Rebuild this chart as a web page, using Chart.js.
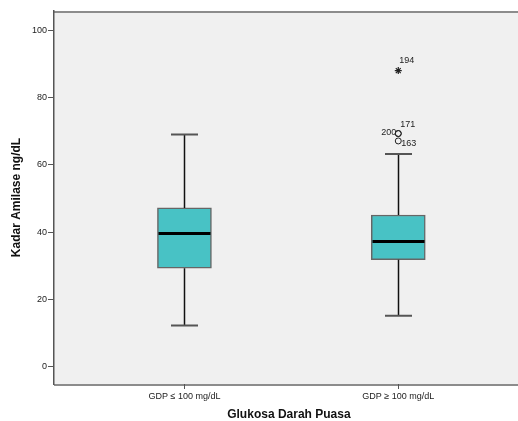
<!DOCTYPE html>
<html>
<head>
<meta charset="utf-8">
<script src="https://cdn.jsdelivr.net/npm/chart.js@4.4.0/dist/chart.umd.min.js"></script>
<style>
  html, body { margin: 0; padding: 0; background: #fff; overflow: hidden; }
</style>
</head>
<body>
<canvas id="boxChart" width="529" height="421"></canvas>
<script>
// data
var groups = ['GDP \u2264 100 mg/dL', 'GDP \u2265 100 mg/dL'];
var groupPos = [1, 2];
var q1 = [29.3, 31.8];
var q3 = [47.2, 45.1];
var medians = [39.6, 37.2];
var whiskerLow = [12.3, 15.2];
var whiskerHigh = [69, 63.2];
var yTicks = [0, 20, 40, 60, 80, 100];

// outliers (second group only)
var outlierVals = [69.3, 69.3, 67.1];
var outlierIds = ['200', '171', '163'];
var extremeVals = [88];
var extremeIds = ['194'];

var boxData = groupPos.map(function (p, i) { return { x: p, y: [q1[i], q3[i]] }; });
var outlierData = outlierVals.map(function (v) { return { x: groupPos[1], y: v }; });
var extremeData = extremeVals.map(function (v) { return { x: groupPos[1], y: v }; });

// plot background + frame
var frame = {
  id: 'frame',
  beforeDraw: function (chart) {
    var a = chart.chartArea, ctx = chart.ctx;
    ctx.save();
    ctx.fillStyle = '#f0f0f0';
    ctx.fillRect(a.left, a.top, chart.width - a.left, a.bottom - a.top);
    ctx.strokeStyle = '#8c8c8c';
    ctx.lineWidth = 2;
    ctx.beginPath();
    ctx.moveTo(a.left, a.top + 1);
    ctx.lineTo(chart.width, a.top + 1);
    ctx.moveTo(a.left, a.bottom + 1);
    ctx.lineTo(chart.width, a.bottom + 1);
    ctx.stroke();
    ctx.restore();
  }
};

// whiskers, caps and medians
var whiskers = {
  id: 'whiskers',
  afterDatasetsDraw: function (chart) {
    var ctx = chart.ctx, xs = chart.scales.x, ys = chart.scales.y;
    ctx.save();
    groupPos.forEach(function (p, i) {
      var cx = Math.round(xs.getPixelForValue(p)) + 0.5;
      var yLo = ys.getPixelForValue(whiskerLow[i]);
      var yHi = ys.getPixelForValue(whiskerHigh[i]);
      var yQ1 = ys.getPixelForValue(q1[i]);
      var yQ3 = ys.getPixelForValue(q3[i]);
      var yMed = ys.getPixelForValue(medians[i]);
      ctx.strokeStyle = '#111';
      ctx.lineWidth = 1.5;
      ctx.beginPath();
      ctx.moveTo(cx, yQ3); ctx.lineTo(cx, yHi);
      ctx.moveTo(cx, yQ1); ctx.lineTo(cx, yLo);
      ctx.stroke();
      ctx.strokeStyle = '#555';
      ctx.lineWidth = 2;
      ctx.beginPath();
      ctx.moveTo(cx - 13.5, yHi); ctx.lineTo(cx + 13.5, yHi);
      ctx.moveTo(cx - 13.5, yLo); ctx.lineTo(cx + 13.5, yLo);
      ctx.stroke();
      ctx.strokeStyle = '#000';
      ctx.lineWidth = 3;
      ctx.beginPath();
      ctx.moveTo(cx - 26, yMed); ctx.lineTo(cx + 26, yMed);
      ctx.stroke();
    });
    ctx.restore();
  }
};

// case numbers beside outliers
var caseLabels = {
  id: 'caseLabels',
  afterDatasetsDraw: function (chart) {
    var ctx = chart.ctx;
    ctx.save();
    ctx.font = '9px "Liberation Sans", Arial, sans-serif';
    ctx.fillStyle = '#222';
    ctx.textBaseline = 'middle';
    var oMeta = chart.getDatasetMeta(1).data;
    var eMeta = chart.getDatasetMeta(2).data;
    // 200 left, 171 above right, 163 right
    ctx.textAlign = 'right';
    ctx.fillText(outlierIds[0], oMeta[0].x - 2, oMeta[0].y - 1);
    ctx.textAlign = 'left';
    ctx.fillText(outlierIds[1], oMeta[1].x + 2, oMeta[1].y - 9);
    ctx.fillText(outlierIds[2], oMeta[2].x + 3, oMeta[2].y + 3);
    ctx.fillText(extremeIds[0], eMeta[0].x + 1, eMeta[0].y - 10);
    ctx.restore();
  }
};

var ctx = document.getElementById('boxChart');
new Chart(ctx, {
  type: 'bar',
  data: {
    datasets: [
      {
        type: 'bar',
        data: boxData,
        backgroundColor: '#48c2c5',
        borderColor: '#666',
        borderWidth: 1.5,
        borderSkipped: false,
        barThickness: 54,
        order: 2
      },
      {
        type: 'scatter',
        data: outlierData,
        pointStyle: 'circle',
        pointRadius: 3,
        backgroundColor: 'rgba(0,0,0,0)',
        borderColor: '#222',
        borderWidth: 1,
        order: 1
      },
      {
        type: 'scatter',
        data: extremeData,
        pointStyle: 'star',
        pointRadius: 3.5,
        borderColor: '#222',
        borderWidth: 1.2,
        order: 1
      }
    ]
  },
  options: {
    responsive: false,
    animation: false,
    layout: { padding: { top: 11, right: 0, left: 0, bottom: 0 } },
    plugins: { legend: { display: false }, tooltip: { enabled: false } },
    scales: {
      x: {
        type: 'linear',
        min: 0.39,
        max: 2.587,
        offset: false,
        afterBuildTicks: function (axis) {
          axis.ticks = groupPos.map(function (p) { return { value: p }; });
        },
        afterFit: function (axis) { axis.height = 37; },
        ticks: {
          callback: function (v) { return groups[groupPos.indexOf(v)]; },
          font: { size: 9, family: '"Liberation Sans", Arial, sans-serif' },
          color: '#222',
          padding: 2,
          maxRotation: 0
        },
        grid: { offset: false, drawOnChartArea: false, drawTicks: true, tickLength: 5, color: '#555', lineWidth: 1 },
        border: { display: false },
        title: {
          display: true,
          text: 'Glukosa Darah Puasa',
          font: { size: 12, weight: 'bold', family: '"Liberation Sans", Arial, sans-serif', lineHeight: 1 },
          color: '#111',
          padding: { top: 0, bottom: 0 }
        }
      },
      y: {
        min: -5.1,
        max: 105.7,
        afterBuildTicks: function (axis) {
          axis.ticks = yTicks.map(function (v) { return { value: v }; });
        },
        afterFit: function (axis) { axis.width = 54; },
        ticks: {
          font: { size: 9, family: '"Liberation Sans", Arial, sans-serif' },
          color: '#222',
          padding: 1
        },
        grid: { drawOnChartArea: false, drawTicks: true, tickLength: 6, color: '#555', lineWidth: 1 },
        border: { color: '#555', width: 1.5 },
        title: {
          display: true,
          text: 'Kadar Amilase ng/dL',
          font: { size: 12, weight: 'bold', family: '"Liberation Sans", Arial, sans-serif', lineHeight: 1 },
          color: '#111',
          padding: { top: 11, bottom: 0 }
        }
      }
    }
  },
  plugins: [frame, whiskers, caseLabels]
});
</script>
</body>
</html>
